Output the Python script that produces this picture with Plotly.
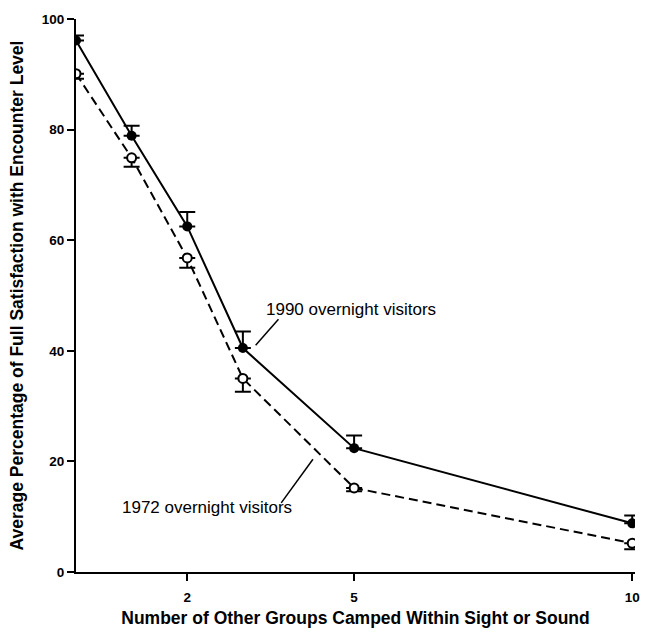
import plotly.graph_objects as go

groups = [0, 1, 2, 3, 5, 10]
sat_1990 = [96.1, 78.9, 62.5, 40.5, 22.4, 8.8]
err_1990 = [0.9, 1.8, 2.6, 3.0, 2.3, 1.4]
sat_1972 = [90.1, 74.9, 56.8, 35.0, 15.2, 5.2]
err_1972 = [0.9, 1.6, 1.8, 2.4, 0.6, 1.1]
zeros = [0] * len(groups)

x_ticks = [2, 5, 10]
y_ticks = [0, 20, 40, 60, 80, 100]

font_family = "Liberation Sans, Arial, Helvetica, sans-serif"

fig = go.Figure()

fig.add_trace(go.Scatter(
    x=groups, y=sat_1972, mode="lines+markers",
    line=dict(color="black", width=2, dash="9px,5px"),
    marker=dict(symbol="circle", size=9, color="white",
                line=dict(color="black", width=2)),
    error_y=dict(type="data", symmetric=False, array=zeros, arrayminus=err_1972,
                 color="black", thickness=2, width=8),
    name="1972 overnight visitors", showlegend=False,
))

fig.add_trace(go.Scatter(
    x=groups, y=sat_1990, mode="lines+markers",
    line=dict(color="black", width=2),
    marker=dict(symbol="circle", size=10, color="black"),
    error_y=dict(type="data", symmetric=False, array=err_1990, arrayminus=zeros,
                 color="black", thickness=2, width=8),
    name="1990 overnight visitors", showlegend=False,
))

# leader lines for labels
fig.add_shape(type="line", x0=3.64, y0=45.7, x1=3.23, y1=41.0,
              line=dict(color="black", width=1.5))
fig.add_shape(type="line", x0=3.69, y0=12.5, x1=4.26, y1=20.4,
              line=dict(color="black", width=1.5))

fig.add_annotation(x=4.94, y=47.5, text="1990 overnight visitors", showarrow=False,
                   font=dict(family=font_family, size=17, color="black"))
fig.add_annotation(x=2.35, y=11.6, text="1972 overnight visitors", showarrow=False,
                   font=dict(family=font_family, size=17, color="black"))

fig.update_layout(
    width=652, height=637,
    margin=dict(l=76, r=12, t=15, b=64),
    plot_bgcolor="white", paper_bgcolor="white",
    font=dict(family=font_family, color="black"),
    xaxis=dict(
        range=[0, 10.05], tickmode="array", tickvals=x_ticks,
        ticktext=[str(v) for v in x_ticks],
        ticks="outside", ticklen=7, tickwidth=2, tickcolor="black",
        ticklabelstandoff=5,
        showline=True, linecolor="black", linewidth=2, showgrid=False, zeroline=False,
        tickfont=dict(family=font_family, size=13.5, color="black", weight="bold"),
        title=dict(text="<b>Number of Other Groups Camped Within Sight or Sound</b>",
                   font=dict(family=font_family, size=17.5, color="black"), standoff=8),
    ),
    yaxis=dict(
        range=[0, 100], tickmode="array", tickvals=y_ticks,
        ticks="outside", ticklen=7, tickwidth=2, tickcolor="black",
        showline=True, linecolor="black", linewidth=2, showgrid=False, zeroline=False,
        tickfont=dict(family=font_family, size=13.5, color="black", weight="bold"),
        title=dict(text="<b>Average Percentage of Full Satisfaction with Encounter Level</b>",
                   font=dict(family=font_family, size=17.5, color="black"), standoff=14),
    ),
)

fig.write_html("out.html", config={"displayModeBar": False},
               post_script="document.body.style.margin='0px';document.body.style.overflow='hidden';")
